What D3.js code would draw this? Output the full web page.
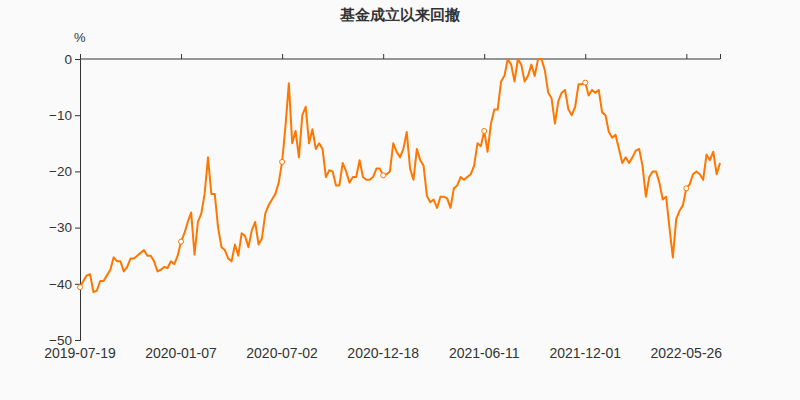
<!DOCTYPE html>
<html><head><meta charset="utf-8">
<script src="https://cdn.jsdelivr.net/npm/d3@7"></script>
<style>body{margin:0;background:#fafafa}svg{display:block}</style></head>
<body><svg id="c" width="800" height="400"></svg>
<script>
const title = "基金成立以来回撤";
const tickLabels = ["2019-07-19","2020-01-07","2020-07-02","2020-12-18","2021-06-11","2021-12-01","2022-05-26"];
const tickIndex = [0,30,60,90,120,150,180];
const yTicks = [0,-10,-20,-30,-40,-50];
const drawdown = [
-40.6,-39.5,-38.5,-38.3,-41.5,-41.2,-39.5,-39.5,-38.5,-37.5,
-35.3,-36,-36,-37.8,-37,-35.5,-35.5,-35,-34.5,-34,
-35,-35,-36,-37.8,-37.5,-37,-37.2,-36,-36.5,-35,
-32.5,-31,-29,-27.3,-34.8,-29,-27.5,-24,-17.5,-24,
-24,-30,-33.5,-34,-35.5,-36,-33,-35,-31,-31.5,
-33.5,-30.5,-29,-33,-32,-27.5,-26,-25,-24,-22,
-18.3,-12,-4.3,-15,-12.8,-17.5,-10,-8.5,-15,-12.5,
-16,-15,-16,-21,-19.8,-20,-22.5,-22.5,-18.5,-20,
-22,-21,-21,-18,-21,-21.5,-21.5,-21,-19.5,-19.5,
-20.7,-20.5,-20,-15,-16.5,-17.5,-16,-13,-19.5,-21.5,
-16,-18,-19,-24.4,-25.5,-25,-26.5,-24.5,-24.5,-24.8,
-26.5,-23,-22.5,-21,-21.5,-21,-20.5,-19,-15,-15.5,
-12.8,-16.5,-11.5,-9,-9,-4,-3,0,-1,-4,
0,-1,-4,-3,-1,-3,0,0,-2,-6,
-7,-11.5,-7.5,-6,-5.5,-9,-10,-8.5,-4.5,-4.5,
-4.2,-6.5,-5.5,-6,-5.5,-9.5,-10,-13,-14,-13.5,
-16,-18.5,-17.5,-18.5,-17.5,-16.3,-16,-19,-24.5,-21,
-20,-20,-22,-25,-24.5,-30,-35.3,-28.5,-27,-26,
-23,-22.3,-20.5,-20,-20.5,-21.5,-17,-18,-16.5,-20.5,
-18.5
];
const svg = d3.select("#c");
const m = {l:80, r:720, t:59, b:340};
const x = d3.scaleLinear().domain([0, drawdown.length-1]).range([m.l, m.r]);
const y = d3.scaleLinear().domain([-50,0]).range([m.b, m.t]);
const font = "Arial, 'Liberation Sans', sans-serif";
svg.append("text").attr("x",400).attr("y",20).attr("text-anchor","middle")
  .attr("font-family",font).attr("font-size",15).attr("font-weight","bold").attr("fill","#333").text(title);
svg.append("text").attr("x",74).attr("y",42).attr("font-family",font).attr("font-size",13).attr("fill","#333").text("%");
const ya = svg.append("g").attr("transform",`translate(${m.l},0)`)
  .call(d3.axisLeft(y).tickValues(yTicks).tickSize(5).tickFormat(d=>d===0?"0":"\u2212"+Math.abs(d)));
const xa = svg.append("g").attr("transform",`translate(0,${m.t})`)
  .call(d3.axisTop(x).tickValues(tickIndex.concat([drawdown.length-1])).tickSize(5).tickFormat(""));
[ya,xa].forEach(g=>{g.selectAll("path,line").attr("stroke","#333");});
ya.selectAll("text").attr("font-family",font).attr("font-size",13.5).attr("fill","#333");
xa.select(".domain").attr("d",`M${m.l},0H${m.r}`);
svg.append("g").selectAll("text").data(tickIndex).join("text")
  .attr("x",d=>x(d)).attr("y",358).attr("text-anchor","middle")
  .attr("font-family",font).attr("font-size",14).attr("fill","#333")
  .text((d,i)=>tickLabels[i]);
const line = d3.line().x((d,i)=>x(i)).y(d=>y(d));
svg.append("path").datum(drawdown).attr("d",line).attr("fill","none")
  .attr("stroke","#ff7700").attr("stroke-width",2).attr("stroke-linejoin","round");
svg.append("g").selectAll("circle").data(tickIndex).join("circle")
  .attr("cx",d=>x(d)).attr("cy",d=>y(drawdown[d])).attr("r",2.5)
  .attr("fill","#fff").attr("stroke","#ff7700").attr("stroke-width",1);
</script></body></html>
